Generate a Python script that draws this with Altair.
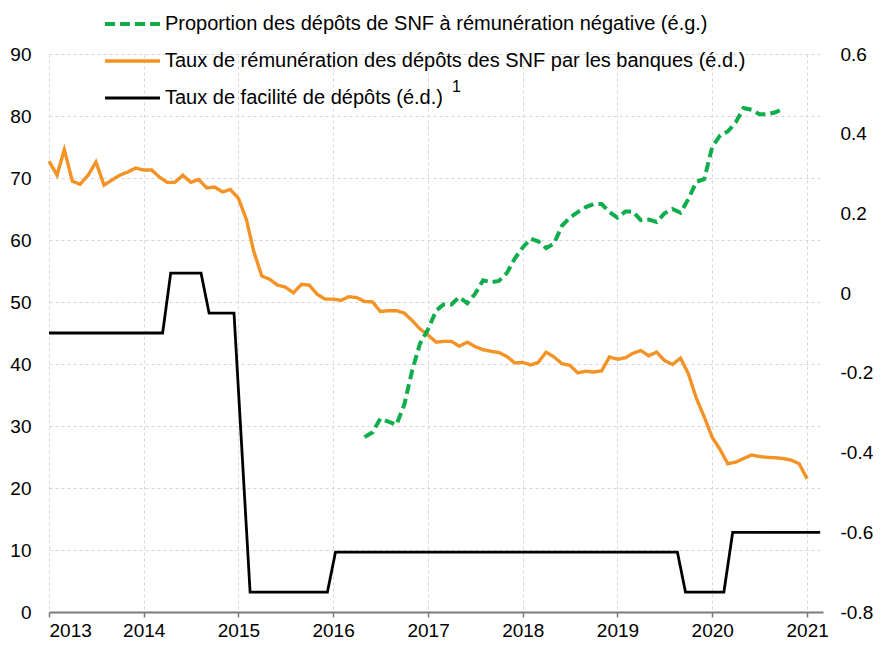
import altair as alt
import pandas as pd

# ---------------- data ----------------
series_names = [
    "Proportion des dépôts de SNF à rémunération négative (é.g.)",
    "Taux de rémunération des dépôts des SNF par les banques (é.d.)",
    "Taux de facilité de dépôts (é.d.)",
]
series_colors = ["#10ad4c", "#f39325", "#000000"]

# Share of NFC deposits with negative remuneration (left axis, %), monthly
green_start = "2016-05-01"
green_values = [28.2, 29.0, 31.2, 30.7, 30.2, 33.4, 39.0, 43.3, 45.6, 48.6,
                49.6, 49.6, 50.8, 49.8, 51.3, 53.5, 53.2, 53.4, 54.7, 57.0,
                58.8, 60.2, 59.8, 58.7, 59.4, 62.3, 63.6, 64.5, 65.3, 65.8,
                65.8, 64.5, 63.6, 64.6, 64.6, 63.2, 63.3, 62.9, 64.3, 65.0,
                64.4, 66.6, 69.4, 69.8, 75.0, 76.9, 77.5, 79.0, 81.3, 81.0,
                80.3, 80.3, 80.6, 81.2]

# Bank remuneration rate of NFC deposits (right axis, %), monthly
orange_start = "2013-01-01"
orange_values = [0.331, 0.296, 0.360, 0.281, 0.273, 0.296, 0.329, 0.271, 0.284, 0.296,
                 0.304, 0.314, 0.309, 0.309, 0.292, 0.278, 0.278, 0.296, 0.278, 0.285,
                 0.264, 0.266, 0.254, 0.260, 0.238, 0.184, 0.105, 0.043, 0.035, 0.020,
                 0.015, 0.001, 0.022, 0.020, -0.003, -0.015, -0.015, -0.018, -0.009, -0.011,
                 -0.021, -0.022, -0.046, -0.044, -0.044, -0.050, -0.069, -0.090, -0.105, -0.123,
                 -0.121, -0.121, -0.133, -0.123, -0.134, -0.142, -0.146, -0.149, -0.159, -0.175,
                 -0.174, -0.180, -0.174, -0.148, -0.160, -0.177, -0.181, -0.200, -0.196, -0.198,
                 -0.195, -0.160, -0.166, -0.162, -0.151, -0.144, -0.157, -0.148, -0.169, -0.179,
                 -0.163, -0.202, -0.264, -0.310, -0.362, -0.393, -0.428, -0.424, -0.415, -0.406,
                 -0.410, -0.412, -0.413, -0.415, -0.419, -0.428, -0.466]

# Deposit facility rate (right axis, %), step series
black_dates = ["2013-01-01", "2014-03-15", "2014-04-15", "2014-08-10", "2014-09-10",
               "2014-12-15", "2015-02-15", "2015-12-10", "2016-01-10", "2019-08-20",
               "2019-09-20", "2020-02-15", "2020-03-20", "2021-02-20"]
black_values = [-0.10, -0.10, 0.05, 0.05, -0.05,
                -0.05, -0.75, -0.75, -0.65, -0.65,
                -0.75, -0.75, -0.60, -0.60]

year_ticks = list(range(2013, 2022))
left_ticks = [0, 10, 20, 30, 40, 50, 60, 70, 80, 90]
right_ticks = [-0.8, -0.6, -0.4, -0.2, 0, 0.2, 0.4, 0.6]

# ---------------- frames ----------------
df_green = pd.DataFrame({
    "date": pd.date_range(green_start, periods=len(green_values), freq="MS").strftime("%Y-%m-%d"),
    "value": green_values,
    "series": series_names[0],
})
df_orange = pd.DataFrame({
    "date": pd.date_range(orange_start, periods=len(orange_values), freq="MS").strftime("%Y-%m-%d"),
    "value": orange_values,
    "series": series_names[1],
})
df_black = pd.DataFrame({"date": black_dates, "value": black_values, "series": series_names[2]})
df_right = pd.concat([df_orange, df_black], ignore_index=True)

FONT = "Liberation Sans"

x_enc = alt.X(
    "date:T",
    scale=alt.Scale(
        type="utc",
        domain=[alt.DateTime(year=2013, month=1, date=1, utc=True),
                alt.DateTime(year=2021, month=3, date=3, utc=True)],
    ),
    axis=alt.Axis(
        title=None,
        format="%Y",
        formatType="utc",
        values=[alt.DateTime(year=y, month=1, date=1, utc=True) for y in year_ticks],
        grid=True, gridDash=[3, 3], gridColor="#d6d6d6", gridWidth=1,
        domain=True, domainColor="#7a7a7a", domainWidth=2,
        ticks=True, tickColor="#7a7a7a", tickSize=5, tickWidth=1.5,
        labelPadding=4, labelFontSize=19, labelFont=FONT, labelColor="#000000",
    ),
)

legend = alt.Legend(
    title=None, orient="none", legendX=91, legendY=-40, direction="vertical",
    symbolType="M-9,0L2,0", symbolSize=100, symbolStrokeWidth=4,
    labelFontSize=20, labelFont=FONT, labelColor="#000000", labelOffset=5,
    labelLimit=900, rowPadding=17, padding=0,
)

color_enc = alt.Color("series:N", scale=alt.Scale(domain=series_names, range=series_colors), legend=legend)
dash_enc = alt.StrokeDash("series:N", scale=alt.Scale(domain=series_names, range=[[10, 5], [1, 0], [1, 0]]), legend=legend)
width_enc = alt.StrokeWidth("series:N", scale=alt.Scale(domain=series_names, range=[4, 2.8, 3.4]), legend=None)

right_layer = alt.Chart(df_right).mark_line(strokeJoin="miter").encode(
    x=x_enc,
    y=alt.Y(
        "value:Q",
        scale=alt.Scale(domain=[-0.8, 0.6], nice=False, zero=False),
        axis=alt.Axis(
            title=None, orient="right", values=right_ticks, grid=False, domain=False,
            ticks=False, tickSize=0, labelPadding=17, labelAlign="left",
            labelFontSize=19, labelFont=FONT, labelColor="#000000",
            labelExpr="datum.value == 0 ? '0' : (datum.value < 0 ? '-' + format(-datum.value, '.1f') : format(datum.value, '.1f'))",
        ),
    ),
    color=color_enc,
    strokeDash=dash_enc,
    strokeWidth=width_enc,
)

left_layer = alt.Chart(df_green).mark_line(strokeCap="butt").encode(
    x=x_enc,
    y=alt.Y(
        "value:Q",
        scale=alt.Scale(domain=[0, 90], nice=False, zero=False),
        axis=alt.Axis(
            title=None, orient="left", values=left_ticks, grid=True, gridDash=[3, 3],
            gridColor="#d6d6d6", gridWidth=1, domain=False, ticks=False, tickSize=0,
            labelPadding=18, labelFontSize=19, labelFont=FONT, labelColor="#000000",
        ),
    ),
    color=color_enc,
    strokeDash=dash_enc,
    strokeWidth=width_enc,
)

note = alt.Chart(pd.DataFrame({"t": ["1"]})).mark_text(
    font=FONT, fontSize=16, align="left", baseline="alphabetic", color="#000000"
).encode(text="t:N", x=alt.value(403), y=alt.value(38))

chart = alt.layer(right_layer, left_layer, note).resolve_scale(y="independent").properties(
    width=774, height=558,
    autosize="none",
    padding={"left": 41, "top": 46, "right": 50, "bottom": 28},
).configure_view(stroke=None)

chart.save("out.html", embed_options={"renderer": "svg", "actions": False})
